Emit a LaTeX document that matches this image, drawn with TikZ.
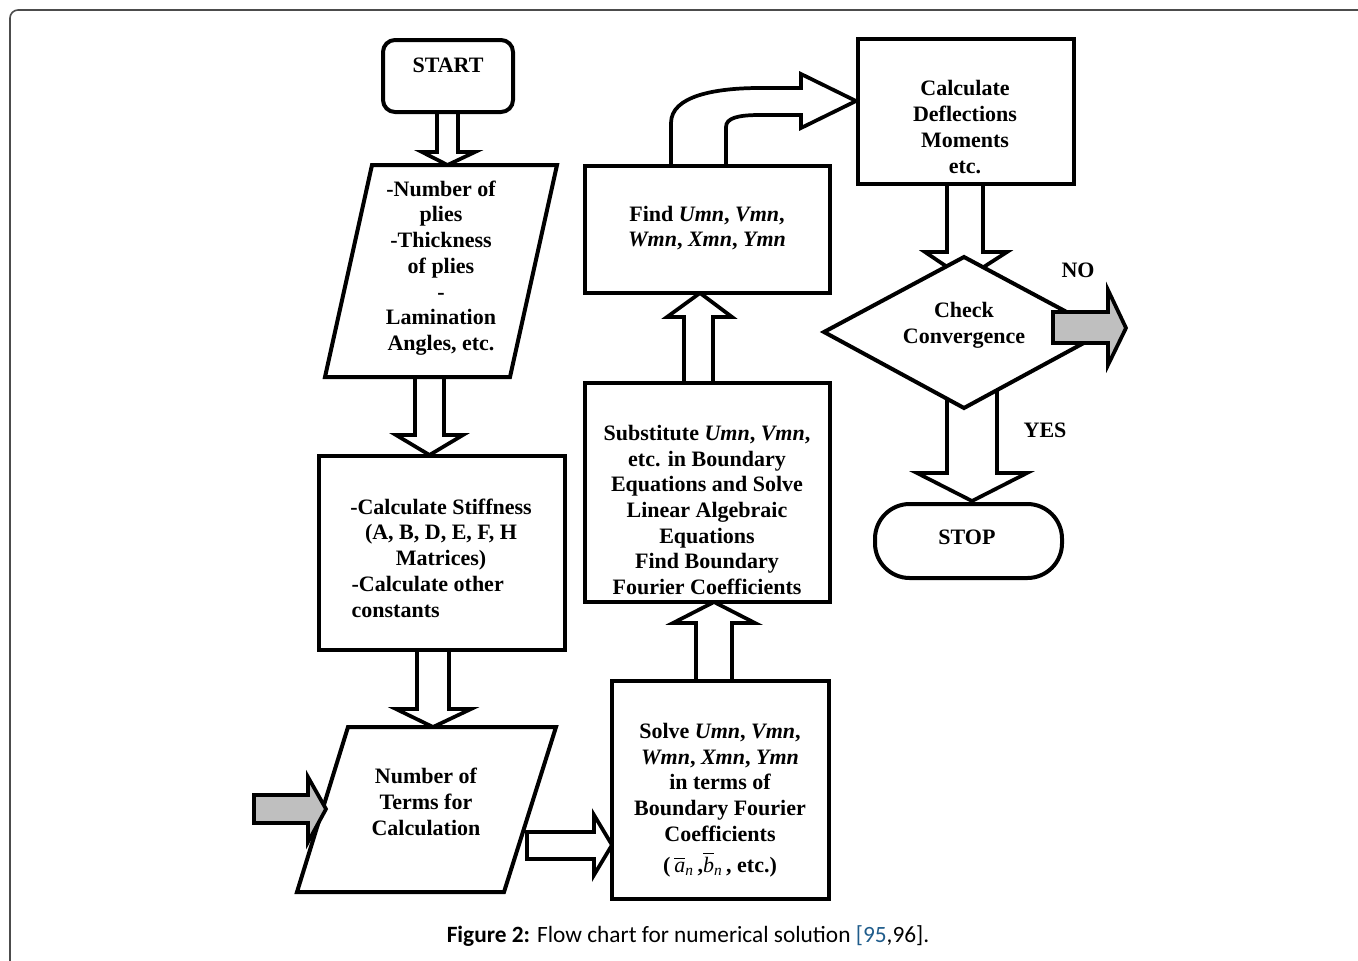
\documentclass[tikz,border=0pt]{standalone}
\usepackage{fontspec}
\usepackage{amsmath}
\setmainfont{Liberation Serif}
\newfontfamily\capfont{Carlito}
\definecolor{refblue}{HTML}{1F5C8B}
\tikzset{
  boxline/.style={draw=black,line width=3pt,fill=white,line join=miter},
  hollow/.style={draw=black,line width=2.8pt,fill=white,line join=miter},
  grayarrow/.style={draw=black,line width=2.8pt,fill=black!25,line join=miter},
  txt/.style={font=\fontsize{16.5}{19.3}\selectfont\bfseries,align=center,inner sep=0pt},
}
\newcommand{\mi}[1]{\text{\mdseries\itshape #1}}
\begin{document}
\begin{tikzpicture}[x=0.75pt,y=-0.75pt]
	\useasboundingbox (0,0) rectangle (1358,960);
	\draw[black!70,line width=1.2pt,rounded corners=6pt] (1358,10) -- (10,10) -- (10,962);
	
	% fleches creuses
	\draw[hollow] (437,112) -- (437,152) -- (422,152) -- (447.5,165) -- (475,152) -- (458,152) -- (458,112);
	\draw[hollow] (415,377) -- (415,435) -- (396,435) -- (429.5,455) -- (463,435) -- (444,435) -- (444,377);
	\draw[hollow] (417,650) -- (417,709) -- (396,709) -- (433,727) -- (471,709) -- (449,709) -- (449,650);
	\draw[hollow] (527,832) -- (594,832) -- (594,815) -- (612,845) -- (594,875) -- (594,859) -- (527,859) -- cycle;
	\draw[hollow] (696,681) -- (696,623) -- (673,623) -- (714,602) -- (755,623) -- (732,623) -- (732,681);
	\draw[hollow] (684,383) -- (684,317) -- (667,317) -- (700,293) -- (732,317) -- (713,317) -- (713,383);
	\draw[hollow] (671,166) -- (671,123) .. controls (671,96) and (715,88) .. (760,88) -- (801,88) -- (801,74) -- (856,101) -- (801,128) -- (801,115) -- (760,115) .. controls (738,115) and (726,118) .. (726,127) -- (726,166);
	\draw[hollow] (947,184) -- (947,252) -- (925,252) -- (965,279) -- (1007,252) -- (983,252) -- (983,184);
	\draw[hollow] (947,380) -- (947,473) -- (917,473) -- (972,501) -- (1027,473) -- (997,473) -- (997,380);
	
	% boites
	\draw[boxline,rounded corners=9pt] (383,40) rectangle (513,112);
	\node[txt] (start) at (448,65) {START};
	
	\draw[boxline] (372,165) -- (557,165) -- (510,377) -- (325,377) -- cycle;
	\node[txt] (plies) at (441,268) {-Number of\\plies\\-Thickness\\of plies\\-\\Lamination\\Angles, etc.};
	
	\draw[boxline] (319,456) rectangle (565,650);
	\node[txt,align=left] (stiff) at (441,558) {\makebox[140pt]{-Calculate Stiffness}\\\makebox[140pt]{(A, B, D, E, F, H}\\\makebox[140pt]{Matrices)}\\\hspace{3pt}-Calculate other\\\hspace{3pt}constants};
	
	\draw[boxline] (348,727) -- (556,727) -- (504,892) -- (297,892) -- cycle;
	\node[txt] (terms) at (426,802) {Number of\\Terms for\\Calculation};
	
	\draw[boxline] (612,681) rectangle (829,899);
	\node[txt] (solve) at (720,800) {Solve \textit{Umn}, \textit{Vmn},\\\textit{Wmn}, \textit{Xmn}, \textit{Ymn}\\in terms of\\Boundary Fourier\\Coefficients\\[4pt](\(\,\overline{\mi{a}}_{\mi{n}}\,\),\(\overline{\mi{b}}_{\mi{n}}\,\), etc.)};
	
	\draw[boxline] (585,383) rectangle (830,602);
	\node[txt] (subst) at (707,510) {Substitute \textit{Umn}, \textit{Vmn},\\etc. in Boundary\\Equations and Solve\\Linear Algebraic\\Equations\\Find Boundary\\Fourier Coefficients};
	
	\draw[boxline] (585,166) rectangle (830,293);
	\node[txt] (find) at (707,228) {Find \textit{Umn}, \textit{Vmn},\\\textit{Wmn}, \textit{Xmn}, \textit{Ymn}};
	
	\draw[boxline] (858,39) rectangle (1074,184);
	\node[txt] (calc) at (965,127) {Calculate\\Deflections\\Moments\\etc.};
	
	\draw[boxline] (824,332) -- (964,257) -- (1104,332) -- (964,408) -- cycle;
	\node[txt] (check) at (964,325) {Check\\Convergence};
	
	\draw[boxline,rounded corners=26pt] (875,504) rectangle (1062,578);
	\node[txt] (stop) at (967,537) {STOP};
	
	% fleches grises
	\draw[grayarrow] (1053,312) -- (1108,312) -- (1108,290) -- (1126,328) -- (1108,365) -- (1108,343) -- (1053,343) -- cycle;
	\draw[grayarrow] (254,795) -- (308,795) -- (308,777) -- (326,809) -- (308,842) -- (308,823) -- (254,823) -- cycle;
	
	\node[txt] (no) at (1078,270) {NO};
	\node[txt] (yes) at (1045,430) {YES};
	
	\node[font=\capfont\fontsize{17.5}{20}\selectfont] (caption) at (688,936) {\textbf{Figure 2:} Flow chart for numerical solution \textcolor{refblue}{[95},96].};
\end{tikzpicture}
\end{document}
